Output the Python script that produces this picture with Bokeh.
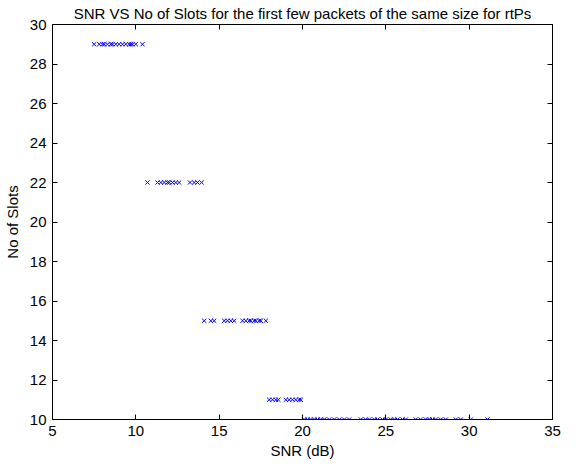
from bokeh.plotting import figure
from bokeh.models import LinearAxis, FixedTicker, Range1d
from bokeh.embed import file_html
from bokeh.resources import INLINE

title_text = "SNR VS No of Slots for the first few packets of the same size for rtPs"
x_label = "SNR (dB)"
y_label = "No of Slots"
x_ticks = [5, 10, 15, 20, 25, 30, 35]
y_ticks = [10, 12, 14, 16, 18, 20, 22, 24, 26, 28, 30]

snr_29 = [7.5, 7.8, 8.0, 8.1, 8.3, 8.5, 8.6, 8.8, 9.0, 9.2, 9.4, 9.6, 9.7, 9.8, 10.0, 10.4]
snr_22 = [10.7, 11.3, 11.5, 11.7, 11.9, 12.0, 12.2, 12.4, 12.6, 13.25, 13.5, 13.7, 13.95]
snr_15 = [14.1, 14.5, 14.7, 15.3, 15.5, 15.7, 15.9, 16.4, 16.6, 16.8, 16.9, 17.1, 17.2, 17.4, 17.5, 17.8]
snr_11 = [18.0, 18.2, 18.4, 18.55, 19.0, 19.2, 19.4, 19.6, 19.8, 19.9]
snr_10 = [20.1, 20.3, 20.5, 20.7, 20.9, 21.1, 21.3, 21.6, 21.9, 22.2, 22.5, 22.8,
          23.5, 23.8, 24.0, 24.3, 24.5, 24.8, 25.0, 25.3, 25.5, 25.7, 26.0, 26.2,
          26.8, 27.1, 27.4, 27.6, 27.8, 28.0, 28.3, 28.6, 29.2, 29.5, 30.1, 31.1]

groups = [(29, snr_29), (22, snr_22), (15, snr_15), (11, snr_11), (10, snr_10)]
xs, ys = [], []
for slots, snrs in groups:
    xs += snrs
    ys += [slots] * len(snrs)

FONT = "Liberation Sans"
FS = "15px"

p = figure(frame_width=500, frame_height=395, output_backend="svg", toolbar_location=None,
           x_range=Range1d(5, 35), y_range=Range1d(10, 30),
           min_border_left=50, min_border_right=10, min_border_top=0, min_border_bottom=0)
p.title.text = title_text
p.title.align = "center"
p.title.text_font = FONT
p.title.text_font_size = FS
p.title.text_font_style = "normal"
p.title.text_color = "black"
p.title.standoff = 5

p.xgrid.visible = False
p.ygrid.visible = False
p.outline_line_color = "black"
p.outline_line_width = 1

p.scatter(xs, ys, marker="x", size=6, line_color="#0000ff", line_width=1)

for ax in [p.xaxis[0], p.yaxis[0]]:
    ax.major_tick_in = 5
    ax.major_tick_out = 0
    ax.minor_tick_in = 0
    ax.minor_tick_out = 0
    ax.major_label_text_font = FONT
    ax.major_label_text_font_size = FS
    ax.major_label_text_color = "black"
    ax.axis_label_text_font = FONT
    ax.axis_label_text_font_size = FS
    ax.axis_label_text_font_style = "normal"
    ax.axis_label_text_color = "black"
    ax.axis_line_color = "black"
    ax.major_tick_line_color = "black"

p.xaxis[0].ticker = FixedTicker(ticks=x_ticks)
p.yaxis[0].ticker = FixedTicker(ticks=y_ticks)
p.xaxis[0].axis_label = x_label
p.yaxis[0].axis_label = y_label
p.xaxis[0].major_label_standoff = 6
p.yaxis[0].major_label_standoff = 6
p.xaxis[0].axis_label_standoff = 3
p.yaxis[0].axis_label_standoff = 6

for loc, ticks in [("right", y_ticks), ("above", x_ticks)]:
    a = LinearAxis(ticker=FixedTicker(ticks=ticks), major_label_text_color=None,
                   major_label_text_font_size="1px",
                   major_tick_in=5, major_tick_out=0, minor_tick_in=0, minor_tick_out=0,
                   major_label_standoff=0, axis_line_color="black",
                   major_tick_line_color="black")
    p.add_layout(a, loc)

open("out.html", "w").write(file_html(p, INLINE))
